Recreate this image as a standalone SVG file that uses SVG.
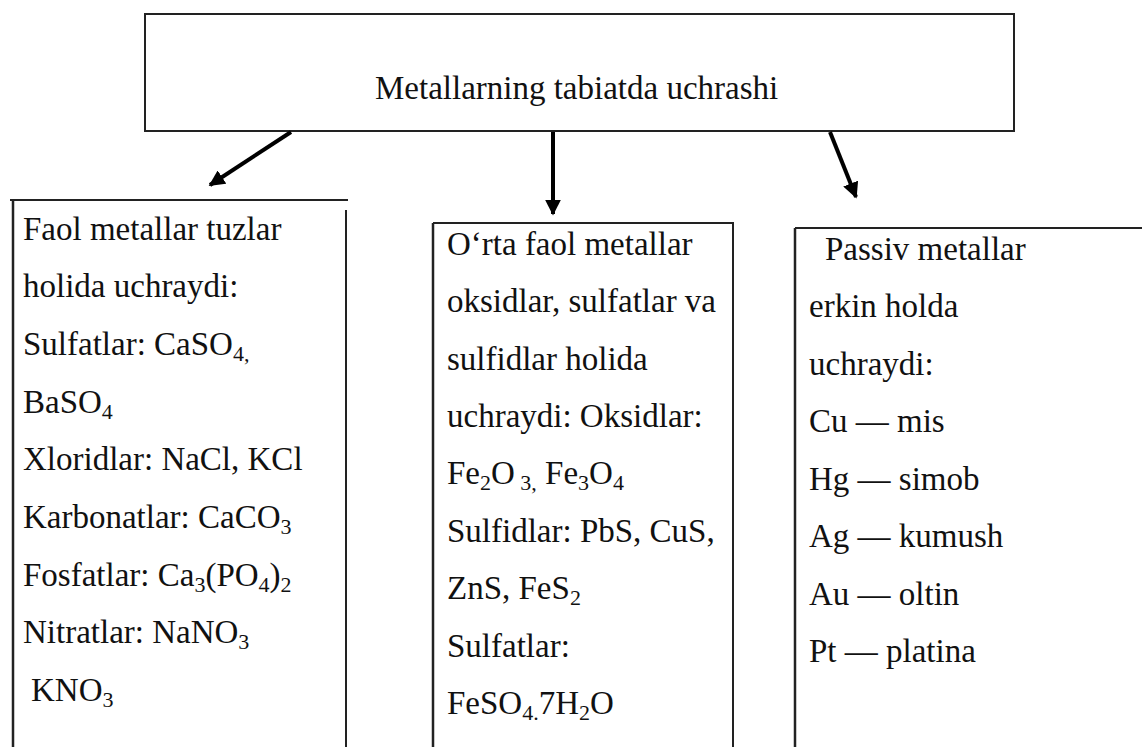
<svg xmlns="http://www.w3.org/2000/svg" width="1142" height="747" viewBox="0 0 1142 747">
  <style>
    .box { fill: none; stroke: #222; stroke-width: 2; }
    .edge { fill: none; stroke: #222; stroke-width: 2.5; }
    .t { font-family: "Liberation Serif", "Times New Roman", serif; font-size: 33px; fill: #111; }
    .link { stroke: #000; stroke-width: 4; fill: none; }
  </style>
  <defs>
    <marker id="head" viewBox="0 0 10 10" refX="9" refY="5" markerUnits="userSpaceOnUse" markerWidth="16" markerHeight="16" orient="auto">
      <path d="M0,0 L10,5 L0,10 Z" fill="#000"/>
    </marker>
  </defs>
  <rect width="1142" height="747" fill="#fff"/>

  <!-- root node -->
  <g id="root">
    <rect class="box" x="145" y="14" width="869" height="117"/>
    <text class="t" x="375" y="99">Metallarning tabiatda uchrashi</text>
  </g>

  <!-- connectors -->
  <g id="connectors">
    <line class="link" x1="291" y1="132" x2="210" y2="185" marker-end="url(#head)"/>
    <line class="link" x1="553" y1="132" x2="553" y2="214" marker-end="url(#head)"/>
    <line class="link" x1="830" y1="132" x2="856" y2="197" marker-end="url(#head)"/>
  </g>

  <!-- active metals -->
  <g id="faol">
    <line class="box" x1="10" y1="200" x2="348" y2="200"/>
    <line class="edge" x1="13" y1="200" x2="13" y2="747"/>
    <line class="box" x1="346" y1="210" x2="346" y2="747"/>
    <text class="t" x="23" y="240">Faol metallar tuzlar</text>
    <text class="t" x="23" y="297">holida uchraydi:</text>
    <text class="t" x="23" y="355">Sulfatlar: CaSO<tspan font-size="22" dy="6">4,</tspan></text>
    <text class="t" x="23" y="413">BaSO<tspan font-size="22" dy="6">4</tspan></text>
    <text class="t" x="23" y="470">Xloridlar: NaCl, KCl</text>
    <text class="t" x="23" y="528">Karbonatlar: CaCO<tspan font-size="22" dy="6">3</tspan></text>
    <text class="t" x="23" y="586">Fosfatlar: Ca<tspan font-size="22" dy="6">3</tspan><tspan dy="-6">(PO</tspan><tspan font-size="22" dy="6">4</tspan><tspan dy="-6">)</tspan><tspan font-size="22" dy="6">2</tspan></text>
    <text class="t" x="23" y="643">Nitratlar: NaNO<tspan font-size="22" dy="6">3</tspan></text>
    <text class="t" x="31" y="701">KNO<tspan font-size="22" dy="6">3</tspan></text>
  </g>

  <!-- moderately active metals -->
  <g id="orta">
    <line class="box" x1="433" y1="223" x2="734" y2="223"/>
    <line class="edge" x1="433" y1="223" x2="433" y2="747"/>
    <line class="box" x1="733" y1="223" x2="733" y2="747"/>
    <text class="t" x="447" y="255">O‘rta faol metallar</text>
    <text class="t" x="447" y="312">oksidlar, sulfatlar va</text>
    <text class="t" x="447" y="370">sulfidlar holida</text>
    <text class="t" x="447" y="427">uchraydi: Oksidlar:</text>
    <text class="t" x="447" y="484">Fe<tspan font-size="22" dy="6">2</tspan><tspan dy="-6">O</tspan><tspan font-size="22" dy="6"> 3,</tspan><tspan dy="-6"> Fe</tspan><tspan font-size="22" dy="6">3</tspan><tspan dy="-6">O</tspan><tspan font-size="22" dy="6">4</tspan></text>
    <text class="t" x="447" y="542">Sulfidlar: PbS, CuS,</text>
    <text class="t" x="447" y="599">ZnS, FeS<tspan font-size="22" dy="6">2</tspan></text>
    <text class="t" x="447" y="657">Sulfatlar:</text>
    <text class="t" x="447" y="714">FeSO<tspan font-size="22" dy="6">4.</tspan><tspan dy="-6">7H</tspan><tspan font-size="22" dy="6">2</tspan><tspan dy="-6">O</tspan></text>
  </g>

  <!-- passive metals -->
  <g id="passiv">
    <line class="box" x1="795" y1="228" x2="1142" y2="228"/>
    <line class="edge" x1="795" y1="228" x2="795" y2="747"/>
    <text class="t" x="825" y="260">Passiv metallar</text>
    <text class="t" x="809" y="317">erkin holda</text>
    <text class="t" x="809" y="375">uchraydi:</text>
    <text class="t" x="809" y="432">Cu — mis</text>
    <text class="t" x="809" y="490">Hg — simob</text>
    <text class="t" x="809" y="547">Ag — kumush</text>
    <text class="t" x="809" y="605">Au — oltin</text>
    <text class="t" x="809" y="662">Pt — platina</text>
  </g>
</svg>
